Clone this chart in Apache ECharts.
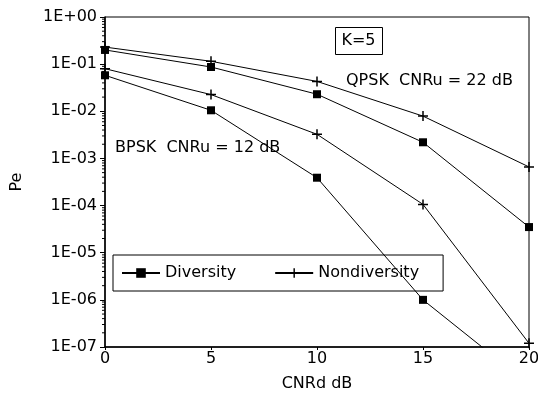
<!DOCTYPE html>
<html>
<head>
<meta charset="utf-8">
<script src="https://cdn.jsdelivr.net/npm/echarts@6/dist/echarts.min.js"></script>
<style>
  html, body { margin: 0; padding: 0; background: #fff; }
  #chart { width: 538px; height: 395px; }
</style>
</head>
<body>
<div id="chart"></div>
<script>
// Bit error probability vs downlink CNR, K = 5
const cnrd = [0, 5, 10, 15, 20];
const qpskDiversity    = [0.20, 0.087, 0.023, 0.0022, 3.5e-5];
const qpskNondiversity = [0.23, 0.115, 0.043, 0.0079, 6.6e-4];
const bpskDiversity    = [0.058, 0.0105, 3.9e-4, 1.0e-6, 1.6e-8];
const bpskNondiversity = [0.080, 0.0226, 0.00325, 1.06e-4, 1.2e-7];
const legendNames = ['Diversity', 'Nondiversity'];
const decadeExponents = [-7, -6, -5, -4, -3, -2, -1];
const minorMantissas = [2, 3, 4, 5, 6, 7, 8, 9];

const FONT = 'DejaVu Sans';
const FS = 16;
const plusSymbol = 'path://M3.4,0 H4.6 V3.4 H8 V4.6 H4.6 V8 H3.4 V4.6 H0 V3.4 H3.4 Z';

function pairs(ys) { return cnrd.map((x, i) => [x, ys[i]]); }

function makeSeries(name, ys) {
  const isDiv = name === 'Diversity';
  return {
    name: name,
    type: 'line',
    data: pairs(ys),
    symbol: isDiv ? 'rect' : plusSymbol,
    symbolSize: isDiv ? 8 : 10,
    showAllSymbol: true,
    lineStyle: { color: '#000', width: 1 },
    itemStyle: { color: '#000' },
    emphasis: { disabled: true },
    clip: true,
    z: 3
  };
}

function expLabel(v) {
  const e = Math.round(Math.log10(v));
  const a = Math.abs(e);
  return '1E' + (e >= 0 ? '+' : '-') + (a < 10 ? '0' : '') + a;
}

// minor tick positions of the log axis (2..9 in each decade)
const minorTickData = [];
decadeExponents.forEach(e => minorMantissas.forEach(m => minorTickData.push([0, m * Math.pow(10, e)])));

const chart = echarts.init(document.getElementById('chart'), null, { renderer: 'canvas' });

chart.setOption({
  animation: false,
  backgroundColor: '#fff',
  grid: {
    left: 105, right: 9, top: 17, bottom: 48,
    outerBoundsMode: 'none', containLabel: false,
    show: true, borderColor: '#000', borderWidth: 1, backgroundColor: 'transparent'
  },
  xAxis: {
    type: 'value', min: 0, max: 20, interval: 5,
    name: 'CNRd dB', nameLocation: 'middle', nameGap: 29,
    nameTextStyle: { fontFamily: FONT, fontSize: FS, color: '#000' },
    axisLine: { lineStyle: { color: '#000', width: 1.5 } },
    axisTick: { show: true, length: 3, lineStyle: { color: '#000' } },
    axisLabel: { fontFamily: FONT, fontSize: FS, color: '#000', margin: 4 },
    splitLine: { show: false }
  },
  yAxis: {
    type: 'log', logBase: 10, min: 1e-7, max: 1,
    name: 'Pe', nameLocation: 'middle', nameGap: 80,
    nameTextStyle: { fontFamily: FONT, fontSize: FS, color: '#000' },
    axisLine: { lineStyle: { color: '#000', width: 1.5 } },
    axisTick: { show: true, length: 5, lineStyle: { color: '#000' } },
    axisLabel: {
      fontFamily: FONT, fontSize: FS, color: '#000', margin: 8,
      formatter: expLabel
    },
    splitLine: { show: false }
  },
  legend: {
    data: legendNames,
    left: 113, top: 255,
    orient: 'horizontal',
    itemWidth: 38, itemHeight: 12, itemGap: 38,
    padding: [10, 24, 10, 8],
    borderColor: '#000', borderWidth: 1,
    textStyle: { fontFamily: FONT, fontSize: FS, color: '#000' },
    selectedMode: false
  },
  series: [
    makeSeries('Diversity', qpskDiversity),
    makeSeries('Nondiversity', qpskNondiversity),
    makeSeries('Diversity', bpskDiversity),
    makeSeries('Nondiversity', bpskNondiversity),
    {
      name: 'minorTicks',
      type: 'custom',
      coordinateSystem: 'cartesian2d',
      data: minorTickData,
      encode: { x: 0, y: 1 },
      silent: true,
      clip: false,
      z: 20,
      renderItem: function (params, api) {
        const p = api.coord([api.value(0), api.value(1)]);
        return {
          type: 'line',
          shape: { x1: p[0] - 3, y1: p[1], x2: p[0], y2: p[1] },
          style: { stroke: '#000', lineWidth: 1 }
        };
      }
    }
  ],
  graphic: [
    { type: 'rect', left: 335, top: 27, shape: { width: 47, height: 27 },
      style: { fill: '#fff', stroke: '#000', lineWidth: 1 }, z: 10 },
    { type: 'text', x: 358.5, y: 41, z: 11,
      style: { text: 'K=5', font: FS + 'px "DejaVu Sans"', fill: '#000', align: 'center', verticalAlign: 'middle' } },
    { type: 'text', x: 346, y: 81, z: 11,
      style: { text: 'QPSK  CNRu = 22 dB', font: FS + 'px "DejaVu Sans"', fill: '#000', align: 'left', verticalAlign: 'middle' } },
    { type: 'text', x: 115, y: 148, z: 11,
      style: { text: 'BPSK  CNRu = 12 dB', font: FS + 'px "DejaVu Sans"', fill: '#000', align: 'left', verticalAlign: 'middle' } }
  ]
});
</script>
</body>
</html>
